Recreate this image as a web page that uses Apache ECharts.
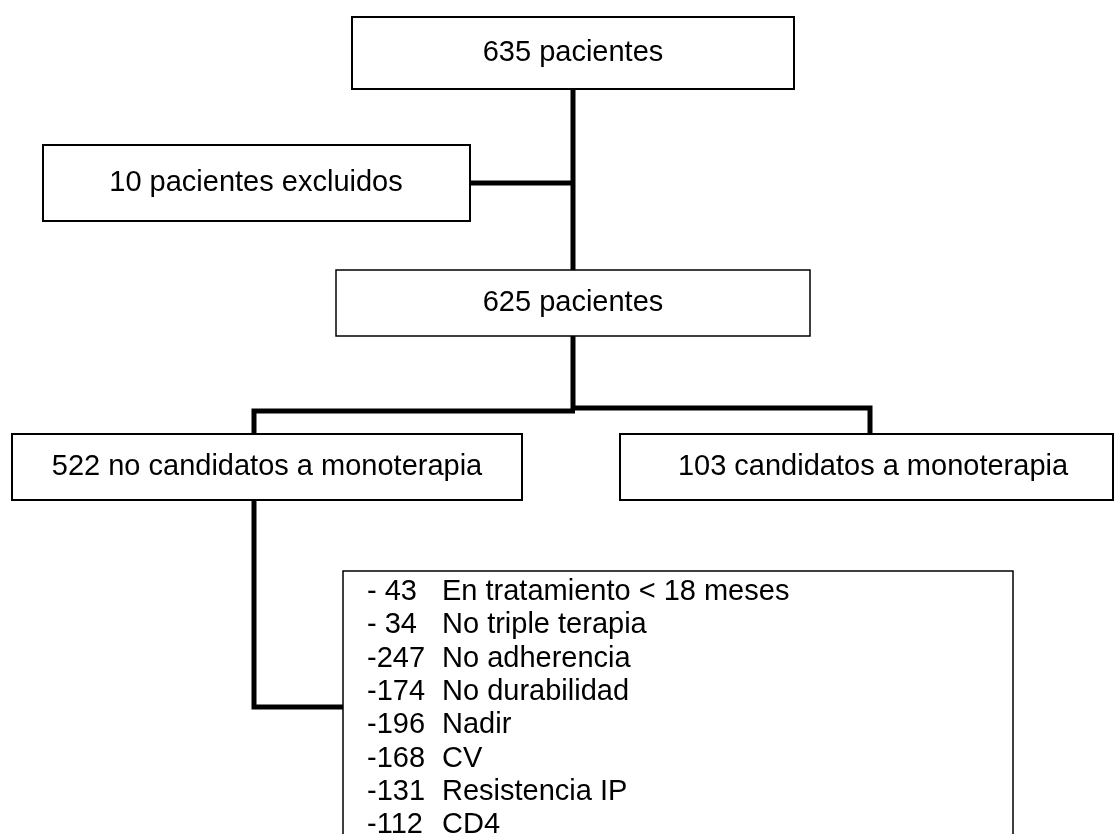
<!DOCTYPE html>
<html>
<head>
<meta charset="utf-8">
<script src="https://cdn.jsdelivr.net/npm/echarts@6/dist/echarts.min.js"></script>
<style>
  html, body { margin: 0; padding: 0; background: #ffffff; }
  #chart { width: 1117px; height: 834px; }
</style>
</head>
<body>
<div id="chart"></div>
<script>
// flowchart boxes, in page units (x right, y down)
const boxNames = ['635 pacientes', '10 pacientes excluidos', '625 pacientes',
  '522 no candidatos a monoterapia', '103 candidatos a monoterapia'];
const boxLeft   = [352, 43, 336, 12, 620];
const boxTop    = [17, 145, 270, 434, 434];
const boxRight  = [794, 470, 810, 522, 1113];
const boxBottom = [89, 221, 336, 500, 500];
// text centre x of each box label
const labelX    = [573, 256, 573, 267, 873];

// exclusion list
const exclCounts  = ['- 43', '- 34', '-247', '-174', '-196', '-168', '-131', '-112'];
const exclReasons = ['En tratamiento < 18 meses', 'No triple terapia', 'No adherencia',
  'No durabilidad', 'Nadir', 'CV', 'Resistencia IP', 'CD4'];
const listBox = [343, 571, 1013, 880];

// thick connectors (polylines)
const connectors = [
  [[573, 89], [573, 270]],
  [[470, 183], [573, 183]],
  [[573, 336], [573, 410]],
  [[254, 434], [254, 411], [575, 411]],
  [[573, 408], [870, 408], [870, 434]],
  [[254, 500], [254, 707], [343, 707]]
];

const FONT = '29px "Liberation Sans", Arial, sans-serif';

const chart = echarts.init(document.getElementById('chart'));

const option = {
  animation: false,
  backgroundColor: '#ffffff',
  grid: { left: 0, right: 0, top: 0, bottom: 0 },
  xAxis: { type: 'value', min: 0, max: 1117, show: false },
  yAxis: { type: 'value', min: 0, max: 834, inverse: true, show: false },
  series: [
    {
      // connectors
      type: 'custom',
      clip: false,
      data: connectors.map((c, i) => [i]),
      renderItem: function (params, api) {
        const pts = connectors[api.value(0)].map(p => api.coord(p));
        return {
          type: 'polyline',
          shape: { points: pts },
          style: { stroke: '#000', lineWidth: 5, fill: null, lineJoin: 'miter', lineCap: 'butt' }
        };
      }
    },
    {
      // labelled boxes
      type: 'custom',
      clip: false,
      data: boxNames.map((n, i) => [boxLeft[i], boxTop[i], boxRight[i], boxBottom[i], labelX[i]]),
      renderItem: function (params, api) {
        const p0 = api.coord([api.value(0), api.value(1)]);
        const p1 = api.coord([api.value(2), api.value(3)]);
        const tx = api.coord([api.value(4), 0])[0];
        return {
          type: 'group',
          children: [
            {
              type: 'rect',
              shape: { x: p0[0], y: p0[1], width: p1[0] - p0[0], height: p1[1] - p0[1] },
              style: { fill: '#fff', stroke: '#000', lineWidth: params.dataIndex === 2 ? 1.5 : 2 }
            },
            {
              type: 'text',
              style: {
                text: boxNames[params.dataIndex],
                x: tx,
                y: (p0[1] + p1[1]) / 2,
                align: 'center',
                verticalAlign: 'middle',
                font: FONT,
                fill: '#000'
              }
            }
          ]
        };
      }
    },
    {
      // exclusion list box
      type: 'custom',
      clip: false,
      data: [[listBox[0], listBox[1], listBox[2], listBox[3]]],
      renderItem: function (params, api) {
        const p0 = api.coord([api.value(0), api.value(1)]);
        const p1 = api.coord([api.value(2), api.value(3)]);
        const kids = [{
          type: 'rect',
          shape: { x: p0[0], y: p0[1], width: p1[0] - p0[0], height: p1[1] - p0[1] },
          style: { fill: '#fff', stroke: '#000', lineWidth: 1.5 }
        }];
        exclCounts.forEach((c, i) => {
          const y = api.coord([0, listBox[1] + 21 + i * 33.35])[1];
          kids.push({
            type: 'text',
            style: { text: c, x: p0[0] + 24, y: y, verticalAlign: 'middle', font: FONT, fill: '#000' }
          });
          kids.push({
            type: 'text',
            style: { text: exclReasons[i], x: p0[0] + 99, y: y, verticalAlign: 'middle', font: FONT, fill: '#000' }
          });
        });
        return { type: 'group', children: kids };
      }
    }
  ]
};

chart.setOption(option);
</script>
</body>
</html>
